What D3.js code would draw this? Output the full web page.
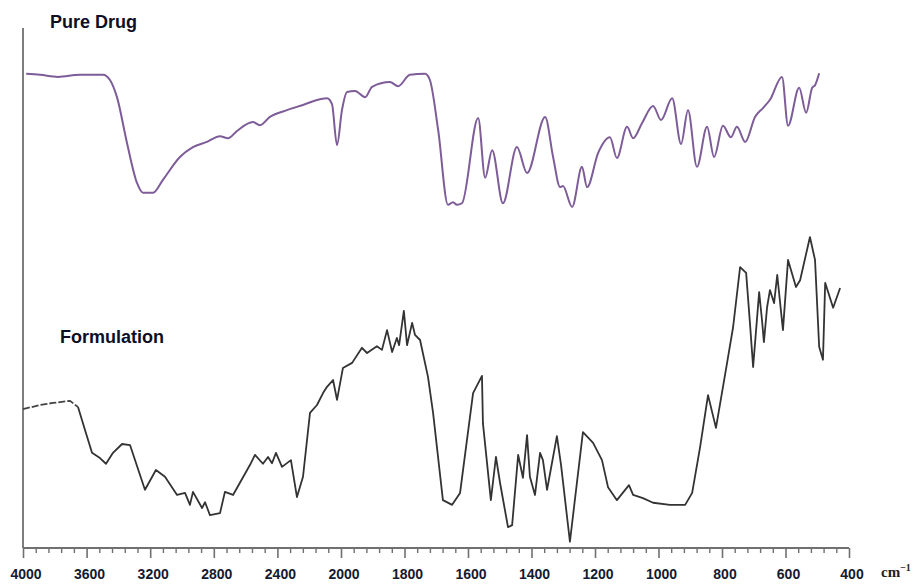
<!DOCTYPE html>
<html>
<head>
<meta charset="utf-8">
<script src="https://cdn.jsdelivr.net/npm/d3@7"></script>
<style>
  body { margin: 0; background: #fff; }
  svg { display: block; }
</style>
</head>
<body>
<svg></svg>
<script>
// wavenumber (cm-1) and transmittance (arbitrary %)
const pureWn = [3980, 3893, 3780, 3641, 3497, 3453, 3409, 3346, 3283, 3245, 3182, 3120, 3013, 2931, 2843, 2761, 2711, 2654, 2554, 2510, 2447, 2340, 2239, 2132, 2088, 2057, 2025, 1997, 1981, 1956, 1924, 1902, 1846, 1820, 1783, 1735, 1720, 1694, 1663, 1647, 1635, 1619, 1568, 1546, 1524, 1490, 1446, 1414, 1357, 1332, 1310, 1301, 1272, 1241, 1225, 1190, 1153, 1131, 1099, 1080, 1052, 1017, 992, 957, 929, 907, 879, 847, 825, 797, 772, 753, 727, 696, 671, 649, 611, 592, 557, 535, 516, 507, 494];
const pureT = [91.2, 91.0, 90.6, 91.0, 91.0, 90.0, 86.7, 77.9, 70.2, 68.3, 68.3, 70.8, 75.2, 77.1, 78.1, 79.2, 78.8, 80.2, 81.9, 81.3, 82.9, 84.2, 85.2, 86.3, 86.5, 85.4, 77.5, 84.2, 87.7, 87.9, 86.7, 88.7, 89.6, 88.8, 91.0, 91.2, 90.0, 80.4, 66.0, 66.5, 66.0, 66.3, 82.7, 71.2, 76.5, 66.3, 77.1, 72.1, 82.9, 75.2, 69.4, 69.6, 65.6, 73.3, 69.4, 76.0, 79.0, 75.0, 81.0, 78.8, 81.7, 85.0, 82.3, 86.5, 77.7, 84.2, 73.3, 81.0, 75.2, 81.2, 79.0, 81.0, 78.1, 82.9, 84.6, 86.2, 90.6, 81.2, 88.5, 83.7, 88.5, 89.0, 91.3];

const formWn = [4000, 3893, 3811, 3704, 3654, 3610, 3566, 3516, 3478, 3434, 3377, 3327, 3233, 3164, 3107, 3031, 2981, 2950, 2931, 2874, 2855, 2824, 2761, 2730, 2679, 2572, 2541, 2491, 2459, 2434, 2409, 2371, 2315, 2277, 2239, 2195, 2151, 2113, 2088, 2050, 2025, 1994, 1965, 1934, 1918, 1887, 1871, 1855, 1839, 1824, 1817, 1802, 1792, 1776, 1767, 1751, 1726, 1710, 1679, 1650, 1625, 1584, 1556, 1553, 1528, 1512, 1499, 1474, 1461, 1442, 1427, 1414, 1405, 1389, 1373, 1364, 1351, 1320, 1307, 1279, 1238, 1206, 1178, 1159, 1131, 1093, 1080, 1049, 1017, 964, 916, 894, 869, 844, 819, 784, 765, 743, 724, 712, 702, 683, 674, 668, 658, 649, 636, 626, 608, 592, 567, 554, 523, 507, 494, 482, 475, 450, 428];
const formT = [26.7, 27.5, 27.9, 28.3, 27.1, 22.7, 18.3, 17.3, 16.2, 18.3, 20.0, 19.8, 11.2, 15.0, 13.7, 10.2, 10.6, 8.3, 10.8, 7.7, 8.8, 6.3, 6.7, 10.8, 10.2, 16.0, 17.9, 16.2, 17.5, 16.3, 18.3, 15.6, 16.9, 9.8, 13.7, 26.0, 27.5, 29.8, 31.0, 32.3, 28.5, 34.6, 35.6, 38.5, 37.5, 38.8, 38.1, 41.9, 37.7, 40.4, 39.0, 45.6, 39.0, 43.3, 41.0, 40.0, 32.9, 26.0, 9.2, 8.3, 10.6, 29.8, 33.1, 24.0, 9.2, 17.5, 12.5, 4.0, 4.4, 17.9, 13.5, 21.7, 13.7, 10.2, 18.3, 16.9, 11.2, 21.5, 16.0, 1.2, 22.3, 20.2, 16.9, 11.7, 9.2, 12.1, 10.2, 9.6, 8.7, 8.3, 8.3, 10.6, 19.4, 29.4, 23.1, 35.6, 42.5, 54.0, 52.9, 43.3, 34.8, 49.2, 43.8, 39.6, 46.3, 49.6, 47.1, 52.5, 41.9, 55.4, 50.2, 51.5, 59.8, 55.4, 38.7, 36.2, 51.0, 46.2, 50.0];

const xTicks = [4000, 3600, 3200, 2800, 2400, 2000, 1800, 1600, 1400, 1200, 1000, 800, 600, 400];

const w = 919;
const h = 584;
// plot edges in pixels
const margin = { top: 28, bottom: 548, left: 23, right: 849 };

const svg = d3.select("svg").attr("width", w).attr("height", h);

// the spectrometer axis changes scale at 2000 cm-1
const x = d3.scaleLinear()
  .domain([4000, 2000, 400])
  .range([margin.left, 341, margin.right]);

const y = d3.scaleLinear()
  .domain([0, 100])
  .range([margin.bottom, margin.top]);

// minor ticks: 5 per interval
const minor = [];
for (let i = 0; i < xTicks.length - 1; i++) {
  const step = (xTicks[i] - xTicks[i + 1]) / 5;
  for (let k = 1; k < 5; k++) minor.push(xTicks[i] - k * step);
}

const axisColor = "#707070";

// major ticks
svg.append("g")
  .attr("transform", `translate(0, ${margin.bottom})`)
  .call(d3.axisBottom(x).tickValues(xTicks).tickSize(10).tickFormat(""))
  .call(g => g.select(".domain").remove())
  .call(g => g.selectAll("line").attr("stroke", axisColor).attr("stroke-width", 1.6));

// minor ticks
svg.append("g")
  .attr("transform", `translate(0, ${margin.bottom})`)
  .call(d3.axisBottom(x).tickValues(minor).tickSize(5).tickFormat(""))
  .call(g => g.select(".domain").remove())
  .call(g => g.selectAll("line").attr("stroke", axisColor).attr("stroke-width", 1.4));

// axis lines
svg.append("line")
  .attr("x1", margin.left).attr("x2", margin.right)
  .attr("y1", margin.bottom).attr("y2", margin.bottom)
  .attr("stroke", axisColor).attr("stroke-width", 1.8);
svg.append("line")
  .attr("x1", margin.left).attr("x2", margin.left)
  .attr("y1", margin.top).attr("y2", margin.bottom)
  .attr("stroke", axisColor).attr("stroke-width", 1.8);

// tick labels
svg.append("g")
  .selectAll("text")
  .data(xTicks)
  .enter()
  .append("text")
  .attr("x", d => x(d) + 3)
  .attr("y", 579)
  .attr("text-anchor", "middle")
  .attr("font-family", "Liberation Sans, Arial, sans-serif")
  .attr("font-weight", "bold")
  .attr("font-size", 14)
  .attr("fill", "#141a30")
  .text(d => d);

// unit
const unit = svg.append("text")
  .attr("x", 881)
  .attr("y", 577)
  .attr("font-family", "Liberation Serif, Times New Roman, serif")
  .attr("font-weight", "bold")
  .attr("font-size", 15)
  .attr("fill", "#222")
  .text("cm");
unit.append("tspan")
  .attr("dy", -6)
  .attr("font-size", 10)
  .text("\u22121");

const line = d3.line()
  .x(d => x(d[0]))
  .y(d => y(d[1]));

const pure = pureWn.map((d, i) => [d, pureT[i]]);
const form = formWn.map((d, i) => [d, formT[i]]);

svg.append("path")
  .datum(pure)
  .attr("fill", "none")
  .attr("stroke", "#7d5c98")
  .attr("stroke-width", 2)
  .attr("stroke-linejoin", "round")
  .attr("d", d3.line().x(d => x(d[0])).y(d => y(d[1])).curve(d3.curveMonotoneX));

// first part of the formulation trace is dashed in the original
svg.append("path")
  .datum(form.slice(0, 5))
  .attr("fill", "none")
  .attr("stroke", "#444")
  .attr("stroke-width", 1.8)
  .attr("stroke-dasharray", "7,2")
  .attr("d", line);

svg.append("path")
  .datum(form.slice(4))
  .attr("fill", "none")
  .attr("stroke", "#333")
  .attr("stroke-width", 1.8)
  .attr("stroke-linejoin", "round")
  .attr("d", line);

// series titles
svg.append("text")
  .attr("x", 50)
  .attr("y", 28)
  .attr("font-family", "Liberation Sans, Arial, sans-serif")
  .attr("font-weight", "bold")
  .attr("font-size", 18)
  .attr("fill", "#0e0e24")
  .text("Pure Drug");

svg.append("text")
  .attr("x", 60)
  .attr("y", 343)
  .attr("font-family", "Liberation Sans, Arial, sans-serif")
  .attr("font-weight", "bold")
  .attr("font-size", 18)
  .attr("fill", "#0e0e24")
  .text("Formulation");
</script>
</body>
</html>
